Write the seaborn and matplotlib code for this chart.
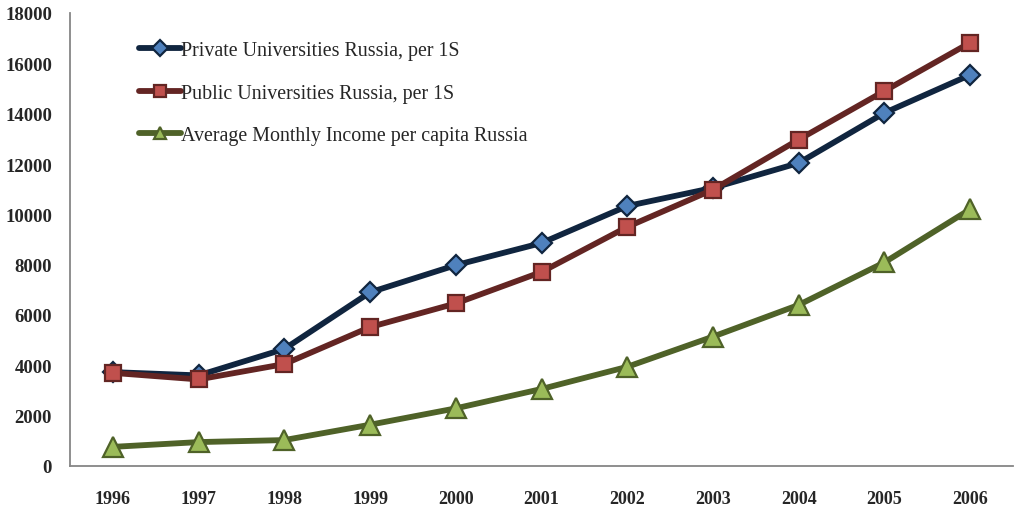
import matplotlib
matplotlib.use("Agg")
import matplotlib.pyplot as plt
import seaborn as sns
import pandas as pd
import numpy as np

years = ["1996", "1997", "1998", "1999", "2000", "2001",
         "2002", "2003", "2004", "2005", "2006"]
private_univ = [3730, 3600, 4650, 6900, 7980, 8860, 10330, 11050, 12040, 14030, 15540]
public_univ = [3700, 3440, 4050, 5520, 6460, 7710, 9500, 10980, 12970, 14900, 16820]
avg_income = [760, 950, 1030, 1640, 2290, 3060, 3940, 5140, 6400, 8090, 10200]

series_names = ["Private Universities Russia, per 1S",
                "Public Universities Russia, per 1S",
                "Average Monthly Income per capita Russia"]

sns.set_theme(style="white")
plt.rcParams["font.family"] = ["Liberation Serif", "DejaVu Serif"]

pos = np.arange(len(years))
df = pd.DataFrame({
    "pos": np.tile(pos, 3),
    "value": private_univ + public_univ + avg_income,
    "series": np.repeat(series_names, len(years)),
})

styles = {
    series_names[0]: dict(color="#10253F", marker="D", mfc="#4F81BD", mec="#10253F", ms=10),
    series_names[1]: dict(color="#632523", marker="s", mfc="#C0504D", mec="#632523", ms=11),
    series_names[2]: dict(color="#4F6228", marker="^", mfc="#9BBB59", mec="#4F6228", ms=14),
}

fig = plt.figure(figsize=(10.14, 5.10), dpi=100)
ax = fig.add_axes([70 / 1014, 43 / 510, 943 / 1014, 453 / 510])

for name in series_names:
    st = styles[name]
    sub = df[df["series"] == name]
    sns.lineplot(data=sub, x="pos", y="value", ax=ax, label=name,
                 color=st["color"], linewidth=4.2, marker=st["marker"],
                 markersize=st["ms"], markerfacecolor=st["mfc"],
                 markeredgecolor=st["mec"], markeredgewidth=1.6)

ax.set_xlim(-0.5, len(years) - 0.5)
ax.set_ylim(0, 18000)
ax.set_yticks(np.arange(0, 18001, 2000))
ax.set_yticklabels([str(v) for v in range(0, 18001, 2000)],
                   fontsize=13.5, fontweight="bold")
ax.set_xticks(pos)
ax.set_xticklabels(years, fontsize=13, fontweight="bold")
ax.set_xticks(np.arange(-0.5, len(years), 1.0), minor=True)
ax.tick_params(axis="x", which="major", length=0, pad=17)
ax.tick_params(axis="x", which="minor", length=5, width=1, color="#868686", direction="out")
ax.tick_params(axis="y", which="major", length=6, width=1, color="#868686", direction="out", pad=7)
ax.set_xlabel("")
ax.set_ylabel("")

for side in ["top", "right"]:
    ax.spines[side].set_visible(False)
for side in ["left", "bottom"]:
    ax.spines[side].set_color("#868686")
    ax.spines[side].set_linewidth(1.3)

leg = ax.legend(loc="upper left", bbox_to_anchor=(0.0645, 0.955), frameon=False,
                fontsize=14.4, handlelength=2.1, handletextpad=0.0,
                labelspacing=1.17, borderaxespad=0)
for h in leg.legend_handles:
    h.set_linewidth(4.2)
    h.set_markersize(8)

fig.savefig("out.png", dpi=100)
